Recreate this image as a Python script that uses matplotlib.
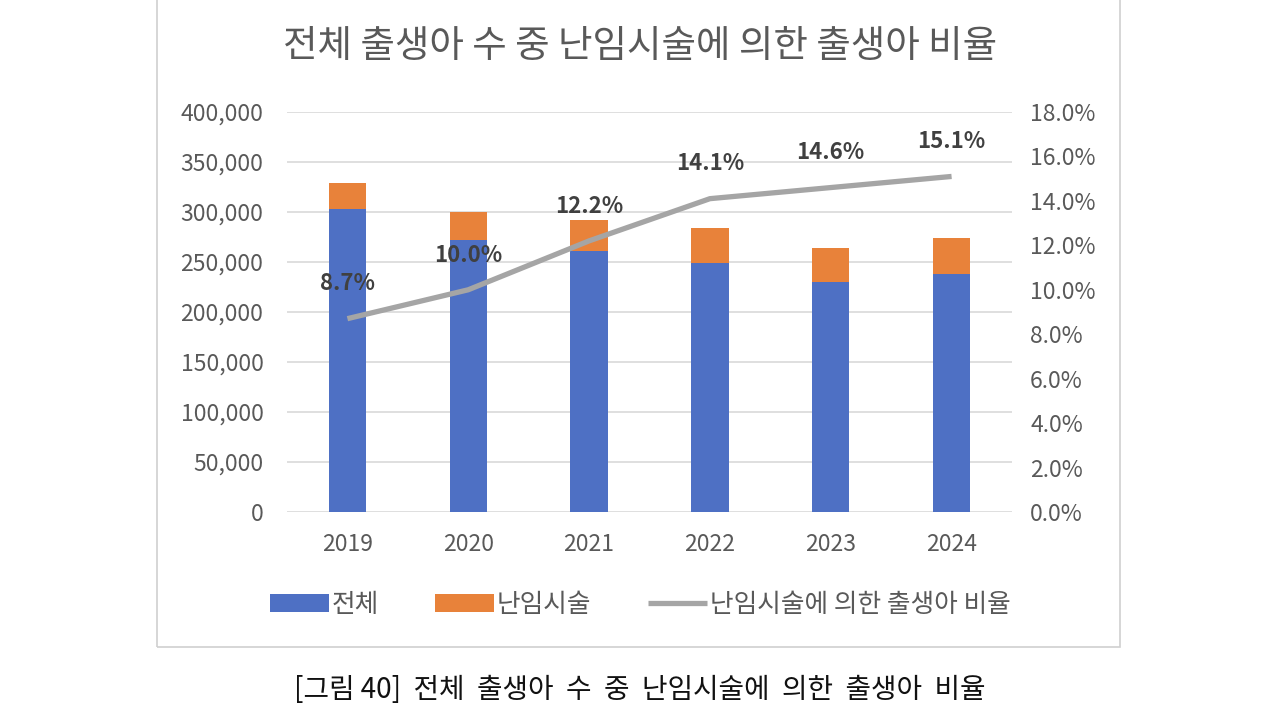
import matplotlib
matplotlib.use("Agg")
import matplotlib.pyplot as plt
from matplotlib.patches import Rectangle
from matplotlib.ticker import FuncFormatter, MultipleLocator
import numpy as np

plt.rcParams['font.family'] = ['Noto Sans CJK KR', 'DejaVu Sans']

years = ['2019', '2020', '2021', '2022', '2023', '2024']
total_births = [302676, 272337, 260562, 249186, 230028, 238343]
ivf_births = [26362, 27318, 31661, 35131, 33630, 36000]
ivf_ratio = [8.7, 10.0, 12.2, 14.1, 14.6, 15.1]

blue = '#4E70C4'
orange = '#E8823A'
gray = '#A5A5A5'
txt = '#595959'

fig = plt.figure(figsize=(12.8, 7.2), dpi=100)
fig.patch.set_facecolor('white')

# outer chart border
fig.patches.append(Rectangle((157 / 1280, 1 - 647 / 720), (1120 - 157) / 1280, 660 / 720,
                             transform=fig.transFigure, fill=False,
                             edgecolor='#D0D0D0', linewidth=1.2))

ax = fig.add_axes([287 / 1280, 1 - 512 / 720, (1012 - 287) / 1280, 400 / 720])
x = np.arange(len(years))

b1 = ax.bar(x, total_births, width=0.31, color=blue, label='전체', zorder=2)
b2 = ax.bar(x, ivf_births, width=0.31, bottom=total_births, color=orange,
            label='난임시술', zorder=2)

ax.set_xlim(-0.5, len(years) - 0.5)
ax.set_ylim(0, 400000)
ax.yaxis.set_major_locator(MultipleLocator(50000))
ax.yaxis.set_major_formatter(FuncFormatter(lambda v, p: f'{int(v):,}'))
ax.set_xticks(x)
ax.set_xticklabels(years)
ax.grid(axis='y', color='#D9D9D9', linewidth=1.2, zorder=0)
for s in ax.spines.values():
    s.set_visible(False)
ax.tick_params(axis='both', length=0, labelsize=16.5, colors=txt)
ax.tick_params(axis='y', pad=17)
ax.tick_params(axis='x', pad=15)

ax2 = ax.twinx()
l1, = ax2.plot(x, ivf_ratio, color=gray, linewidth=3.8, solid_capstyle='butt',
               label='난임시술에 의한 출생아 비율', zorder=3)
ax2.set_ylim(0, 18)
ax2.yaxis.set_major_locator(MultipleLocator(2))
ax2.yaxis.set_major_formatter(FuncFormatter(lambda v, p: f'{v:.1f}%'))
for s in ax2.spines.values():
    s.set_visible(False)
ax2.tick_params(axis='y', length=0, labelsize=16.5, colors=txt, pad=13)

for xi, r in zip(x, ivf_ratio):
    ax2.annotate(f'{r:.1f}%', (xi, r), xytext=(0, 25), textcoords='offset points',
                 ha='center', va='center', fontsize=16, fontweight='bold',
                 color='#404040', zorder=4)

fig.text(0.5, 1 - 47 / 720, '전체 출생아 수 중 난임시술에 의한 출생아 비율',
         ha='center', va='center', fontsize=27, color=txt)

fig.legend(handles=[b1, b2, l1], loc='center', bbox_to_anchor=(0.5, 1 - 605 / 720),
           ncol=3, frameon=False, fontsize=18.5, handlelength=2.3, handleheight=0.7,
           columnspacing=2.2, handletextpad=0.1, labelcolor=txt)

fig.text(0.5, 1 - 690 / 720, '[그림 40]  전체  출생아  수  중  난임시술에  의한  출생아  비율',
         ha='center', va='center', fontsize=20, color='#111111')

fig.savefig('out.png', dpi=100, facecolor='white')
